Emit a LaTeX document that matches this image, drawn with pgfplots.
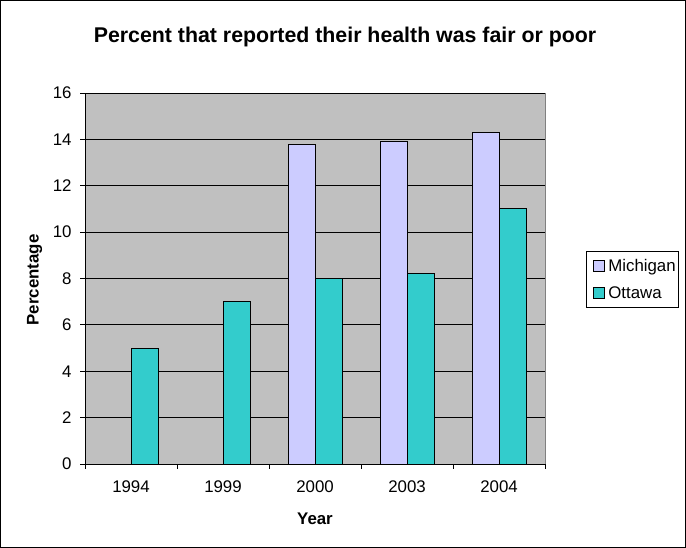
\documentclass[border=0pt]{standalone}
\usepackage{pgfplots}
\pgfplotsset{compat=1.18}
\usepackage{fontspec}
\setmainfont{Liberation Sans}

\definecolor{plotgrey}{HTML}{C0C0C0}
\definecolor{edgegrey}{HTML}{808080}
\definecolor{michigan}{HTML}{CCCCFF}
\definecolor{ottawa}{HTML}{33CCCC}

\newcommand{\chartfont}{\fontsize{16.9}{19}\selectfont}

\begin{document}
\begin{tikzpicture}[x=1bp,y=1bp]
% outer chart frame
\draw[line width=1.2bp] (0.6,0.6) rectangle (685.4,547.4);

% title and axis titles
\node[anchor=base, font=\fontsize{21.4}{25}\selectfont\bfseries] at (345,505.3)
  {Percent that reported their health was fair or poor};
\node[rotate=90, font=\chartfont\bfseries] at (34.5,268) {Percentage};
\node[font=\chartfont\bfseries] at (315,29) {Year};

\begin{axis}[
  at={(85bp,84bp)}, anchor=south west,
  scale only axis, width=460bp, height=371bp,
  xmin=-0.5, xmax=4.5, ymin=0, ymax=16,
  axis x line*=bottom, axis y line*=left,
  axis line style={black, line width=0.9bp},
  axis background/.style={fill=plotgrey, draw=edgegrey, line width=0.9bp},
  ymajorgrids, grid style={black, line width=0.8bp},
  tick align=outside, major tick length=5bp,
  tick style={black, line width=0.9bp},
  ytick={0,2,...,16},
  yticklabel style={font=\chartfont, xshift=-5bp},
  xtick={-0.5,0.5,...,4.5}, xticklabels={},
  extra x ticks={0,1,2,3,4},
  extra x tick labels={1994,1999,2000,2003,2004},
  extra x tick style={major tick length=0pt,
    xticklabel style={font=\chartfont, yshift=-13bp}},
  /pgf/number format/assume math mode=true,
  ybar, bar width=0.293,
  legend style={at={(rel axis cs:1.089,0.574)}, anchor=north west,
    draw=black, fill=white, line width=0.8bp, font=\chartfont,
    inner xsep=0bp, inner ysep=5.5bp, row sep=10bp,
    nodes={inner xsep=3bp},
    cells={anchor=west}},
]
\addplot[fill=michigan, draw=black, line width=0.9bp, bar shift=-0.1465,
  legend image code/.code={\path[draw=none, fill=none] (0bp,0bp) -- (19bp,0bp);
    \draw[fill=michigan, draw=black, line width=0.8bp] (7bp,-5.5bp) rectangle (18bp,5.5bp);}]
  coordinates {(2,13.8) (3,13.9) (4,14.3)};
\addlegendentry{Michigan}
\addplot[fill=ottawa, draw=black, line width=0.9bp, bar shift=0.1465,
  legend image code/.code={\path[draw=none, fill=none] (0bp,0bp) -- (19bp,0bp);
    \draw[fill=ottawa, draw=black, line width=0.8bp] (7bp,-5.5bp) rectangle (18bp,5.5bp);}]
  coordinates {(0,5) (1,7) (2,8) (3,8.2) (4,11)};
\addlegendentry{Ottawa}
\end{axis}
\end{tikzpicture}
\end{document}
